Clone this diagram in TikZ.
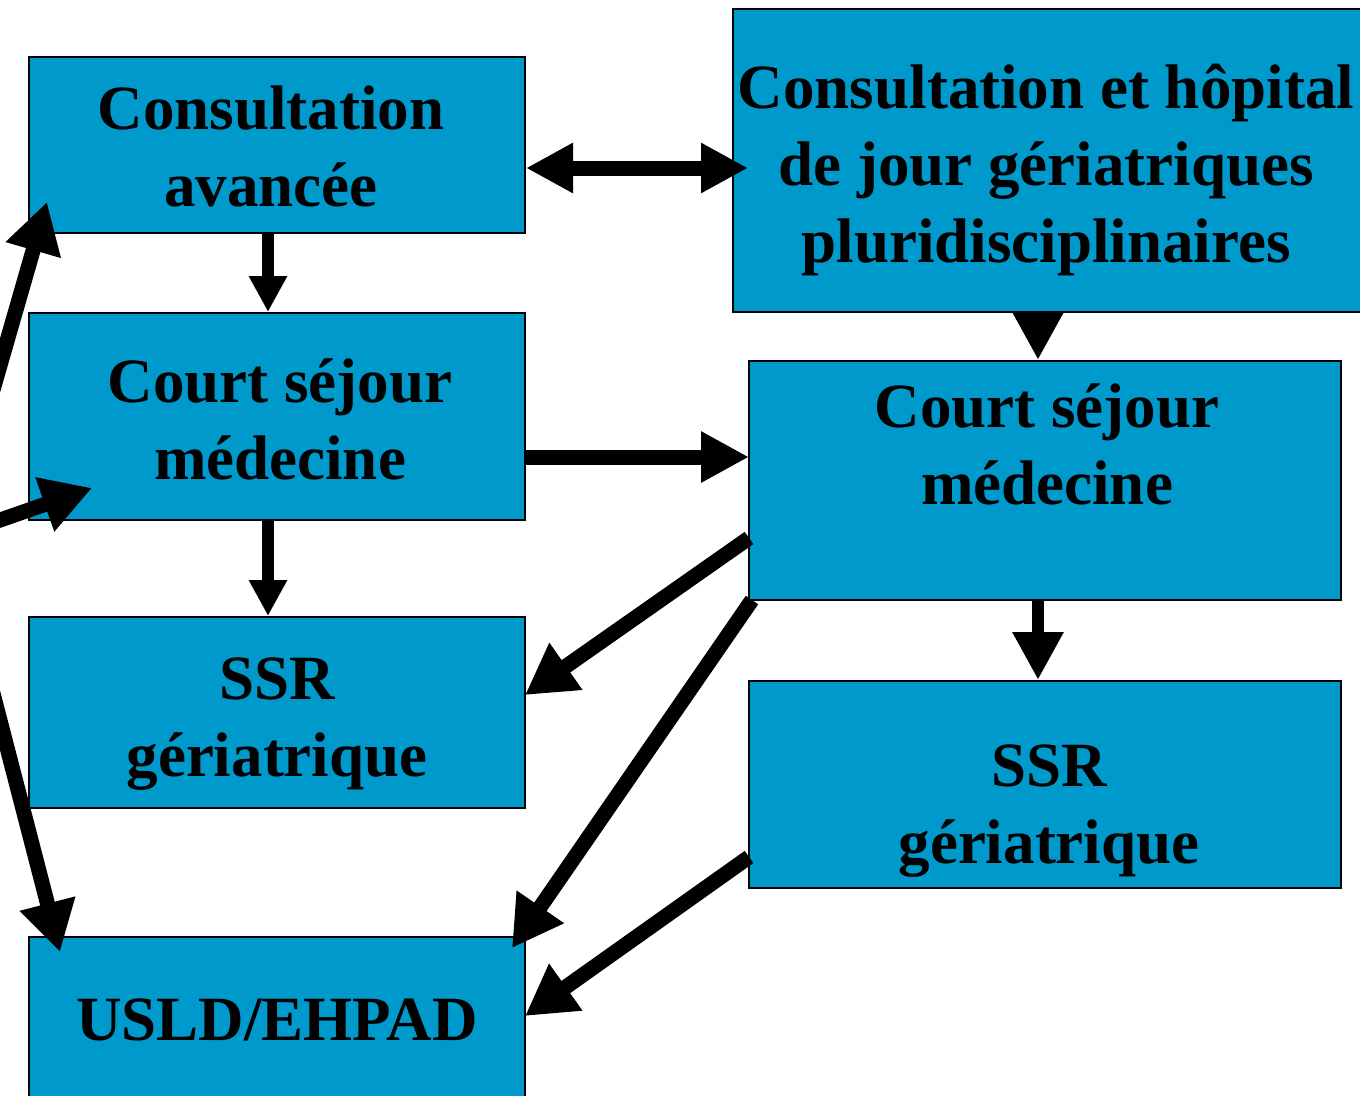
\documentclass[tikz,border=0pt]{standalone}
\usepackage{fontspec}
\setmainfont{Liberation Serif}
\usetikzlibrary{arrows.meta,calc}
\definecolor{boxblue}{HTML}{0099CC}
\begin{document}
\begin{tikzpicture}[x=1pt,y=-1pt,
  box/.style={draw=black,line width=1.6pt,fill=boxblue,rectangle,anchor=north west,inner sep=0pt,outer sep=0pt},
  lbl/.style={align=center,inner sep=0pt,font=\fontsize{63}{77}\selectfont\bfseries},
  bigarrow/.style={line width=15pt,-{Triangle[length=50pt,width=54pt]}},
  smallarrow/.style={line width=12pt,-{Triangle[length=36pt,width=36pt]}},
  medarrow/.style={line width=12pt,-{Triangle[length=48pt,width=48pt]}},
  dblarrow/.style={line width=15pt,{Triangle[length=47pt,width=47pt]}-{Triangle[length=47pt,width=47pt]}}]
\useasboundingbox (0,0) rectangle (1360,1095);
\clip (0,0) rectangle (1360,1095);
% boxes
\node[box,minimum width=496pt,minimum height=176pt] (A) at (29,57) {};
\node[box,minimum width=496pt,minimum height=207pt] (B) at (29,313) {};
\node[box,minimum width=496pt,minimum height=191pt] (C) at (29,617) {};
\node[box,minimum width=496pt,minimum height=180pt] (D) at (29,937) {};
\node[box,minimum width=640pt,minimum height=303pt] (E) at (733,9) {};
\node[box,minimum width=592pt,minimum height=239pt] (F) at (749,361) {};
\node[box,minimum width=592pt,minimum height=207pt] (G) at (749,681) {};
% labels
\node[lbl] (tA) at (271,146) {Consultation\\avancée};
\node[lbl] (tB) at (280,419) {Court séjour\\médecine};
\node[lbl] (tC) at (277,724) {SSR\\gériatrique};
\node[lbl] (tD) at (277,1020) {USLD/EHPAD};
\node[lbl] (tE) at (1046,170) {Consultation et hôpital\\de jour gériatriques\\pluridisciplinaires};
\node[lbl] (tF) at (1047,444) {Court séjour\\médecine};
\node[lbl] (tG) at (1049,811) {SSR\\gériatrique};
% incoming from outside left
\coordinate (inA) at (-20,435);
\coordinate (inB) at (-40,534);
\coordinate (inD) at (-12,674);
% connectors
\draw[smallarrow] ($(A.south)+(-9,0)$) -- ($(B.north)+(-9,-1)$);
\draw[smallarrow] ($(B.south)+(-9,0)$) -- ($(C.north)+(-9,-1)$);
\draw[dblarrow] ($(A.north east)+(1,111)$) -- ($(E.north west)+(15,159)$);
\draw[medarrow,line width=15pt] ($(B.north east)+(0,144)$) -- ($(F.north west)+(0,96)$);
\draw[medarrow] ($(E.south)+(-15,0)$) -- ($(E.south)+(-15,48)$);
\draw[medarrow] ($(F.south)+(-7,0)$) -- ($(G.north)+(-7,-1)$);
\draw[bigarrow] ($(F.north west)+(0,177)$) -- ($(C.north east)+(0,78)$);
\draw[bigarrow] ($(F.south west)+(3,0)$) -- ($(D.north east)+(-13,11)$);
\draw[bigarrow] ($(G.north west)+(0,176)$) -- ($(D.north east)+(0,79)$);
\draw[bigarrow] (inA) -- ($(A.south west)+(18,-31)$);
\draw[bigarrow] (inB) -- ($(B.south west)+(63,-32)$);
\draw[bigarrow] (inD) -- ($(D.north west)+(31,15)$);
\end{tikzpicture}
\end{document}
